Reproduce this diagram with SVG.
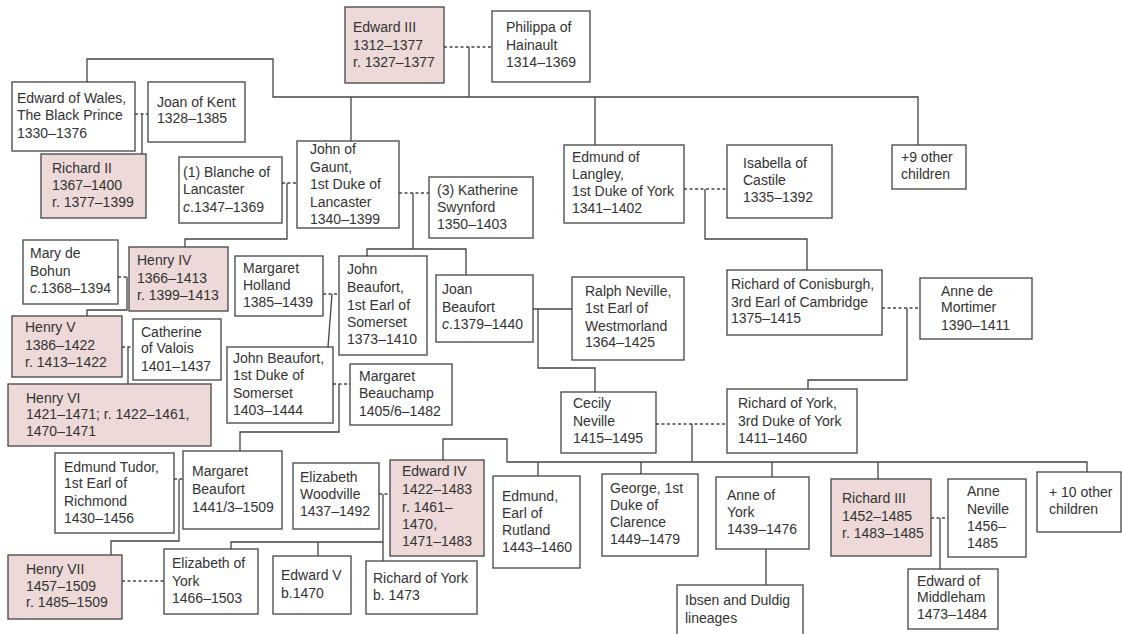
<svg xmlns="http://www.w3.org/2000/svg" width="1122" height="634" viewBox="0 0 1122 634">
<style>
.b{fill:#fff;stroke:#444;stroke-width:1.3}
.k{fill:#ecd9d8;stroke:#444;stroke-width:1.3}
text{font-family:"Liberation Sans",Arial,sans-serif;font-size:14px;fill:#333}
.c{fill:none;stroke:#444;stroke-width:1.3}
.d{fill:none;stroke:#444;stroke-width:1.3;stroke-dasharray:3,2.5}
</style>
<rect width="1122" height="634" fill="#fff"/>
<g id="connectors">
<line class="d" x1="444" y1="47" x2="492" y2="47"/>
<line class="c" x1="469" y1="47" x2="469" y2="97"/>
<polyline class="c" points="87,82 87,59 273,59 273,97 918,97 918,145"/>
<line class="c" x1="351" y1="97" x2="351" y2="141"/>
<line class="c" x1="595" y1="97" x2="595" y2="145"/>
<line class="d" x1="135" y1="114" x2="148" y2="114"/>
<line class="c" x1="142" y1="114" x2="142" y2="154"/>
<line class="d" x1="282" y1="183" x2="297" y2="183"/>
<polyline class="c" points="287,183 287,239 185,239 185,247"/>
<line class="d" x1="399" y1="193" x2="429" y2="193"/>
<line class="c" x1="413" y1="193" x2="413" y2="249"/>
<polyline class="c" points="367,256 367,249 466,249 466,275"/>
<line class="d" x1="118" y1="277" x2="129" y2="277"/>
<polyline class="c" points="127,277 127,310 87,310 87,316"/>
<line class="d" x1="122" y1="347" x2="133" y2="347"/>
<line class="c" x1="128" y1="347" x2="128" y2="384"/>
<line class="d" x1="323" y1="294" x2="339" y2="294"/>
<line class="c" x1="332" y1="294" x2="328" y2="347"/>
<line class="d" x1="333" y1="384" x2="350" y2="384"/>
<polyline class="c" points="339,384 339,432 240,432 240,451"/>
<line class="c" x1="533" y1="309" x2="572" y2="309"/>
<polyline class="c" points="538,309 538,368 595,368 595,392"/>
<line class="d" x1="684" y1="189" x2="727" y2="189"/>
<polyline class="c" points="705,189 705,239 807,239 807,270"/>
<line class="d" x1="882" y1="308" x2="920" y2="308"/>
<polyline class="c" points="907,308 907,380 808,380 808,389"/>
<line class="d" x1="656" y1="424" x2="727" y2="424"/>
<line class="c" x1="692" y1="424" x2="692" y2="462"/>
<polyline class="c" points="443,460 443,439 507,439 507,462 1087,462 1087,472"/>
<line class="c" x1="538" y1="462" x2="538" y2="476"/>
<line class="c" x1="641" y1="462" x2="641" y2="474"/>
<line class="c" x1="772" y1="462" x2="772" y2="477"/>
<line class="c" x1="878" y1="462" x2="878" y2="479"/>
<line class="c" x1="766" y1="549" x2="766" y2="585"/>
<line class="d" x1="931" y1="518" x2="948" y2="518"/>
<line class="c" x1="940" y1="518" x2="940" y2="569"/>
<line class="d" x1="174" y1="479" x2="183" y2="479"/>
<polyline class="c" points="179,479 179,541 111,541 111,555"/>
<line class="d" x1="379" y1="494" x2="390" y2="494"/>
<line class="c" x1="383" y1="494" x2="383" y2="561"/>
<polyline class="c" points="231,549 231,542 383,542"/>
<line class="c" x1="318" y1="542" x2="318" y2="556"/>
<line class="d" x1="122" y1="581" x2="164" y2="581"/>
</g>
<g id="edward3"><rect class="k" x="345" y="7" width="99" height="76"/><text x="353" y="32">Edward III</text><text x="353" y="50">1312–1377</text><text x="353" y="67">r. 1327–1377</text></g>
<g id="philippa"><rect class="b" x="492" y="11" width="98" height="71"/><text x="506" y="32">Philippa of</text><text x="506" y="50">Hainault</text><text x="506" y="67">1314–1369</text></g>
<g id="edwardwales"><rect class="b" x="12" y="82" width="123" height="69"/><text x="17" y="103">Edward of Wales,</text><text x="17" y="120">The Black Prince</text><text x="17" y="138">1330–1376</text></g>
<g id="joankent"><rect class="b" x="148" y="82" width="97" height="60"/><text x="157" y="107">Joan of Kent</text><text x="157" y="123">1328–1385</text></g>
<g id="richard2"><rect class="k" x="41" y="154" width="105" height="64"/><text x="52" y="173">Richard II</text><text x="52" y="190">1367–1400</text><text x="52" y="207">r. 1377–1399</text></g>
<g id="blanche"><rect class="b" x="179" y="157" width="103" height="66"/><text x="183" y="177">(1) Blanche of</text><text x="183" y="194">Lancaster</text><text x="183" y="212"><tspan font-style="italic">c</tspan>.1347–1369</text></g>
<g id="gaunt"><rect class="b" x="297" y="141" width="102" height="87"/><text x="310" y="154">John of</text><text x="310" y="172">Gaunt,</text><text x="310" y="189">1st Duke of</text><text x="310" y="207">Lancaster</text><text x="310" y="224">1340–1399</text></g>
<g id="katherine"><rect class="b" x="429" y="177" width="104" height="61"/><text x="437" y="195">(3) Katherine</text><text x="437" y="212">Swynford</text><text x="437" y="229">1350–1403</text></g>
<g id="edmundlangley"><rect class="b" x="564" y="145" width="120" height="78"/><text x="572" y="162">Edmund of</text><text x="572" y="179">Langley,</text><text x="572" y="196">1st Duke of York</text><text x="572" y="213">1341–1402</text></g>
<g id="isabella"><rect class="b" x="727" y="145" width="105" height="73"/><text x="743" y="168">Isabella of</text><text x="743" y="185">Castile</text><text x="743" y="202">1335–1392</text></g>
<g id="other9"><rect class="b" x="892" y="145" width="74" height="44"/><text x="901" y="162">+9 other</text><text x="901" y="179">children</text></g>
<g id="marybohun"><rect class="b" x="23" y="240" width="95" height="64"/><text x="30" y="258">Mary de</text><text x="30" y="276">Bohun</text><text x="30" y="293"><tspan font-style="italic">c</tspan>.1368–1394</text></g>
<g id="henry4"><rect class="k" x="129" y="247" width="99" height="64"/><text x="137" y="265">Henry IV</text><text x="137" y="283">1366–1413</text><text x="137" y="300">r. 1399–1413</text></g>
<g id="mholland"><rect class="b" x="235" y="256" width="88" height="60"/><text x="243" y="273">Margaret</text><text x="243" y="290">Holland</text><text x="243" y="307">1385–1439</text></g>
<g id="jbeaufort1"><rect class="b" x="339" y="256" width="88" height="99"/><text x="347" y="274">John</text><text x="347" y="292">Beaufort,</text><text x="347" y="310">1st Earl of</text><text x="347" y="327">Somerset</text><text x="347" y="344">1373–1410</text></g>
<g id="joanbeaufort"><rect class="b" x="436" y="275" width="97" height="67"/><text x="442" y="294">Joan</text><text x="442" y="312">Beaufort</text><text x="442" y="329"><tspan font-style="italic">c</tspan>.1379–1440</text></g>
<g id="ralph"><rect class="b" x="572" y="277" width="112" height="83"/><text x="585" y="296">Ralph Neville,</text><text x="585" y="313">1st Earl of</text><text x="585" y="331">Westmorland</text><text x="585" y="347">1364–1425</text></g>
<g id="conisburgh"><rect class="b" x="727" y="270" width="155" height="65"/><text x="731" y="289">Richard of Conisburgh,</text><text x="731" y="307">3rd Earl of Cambridge</text><text x="731" y="323">1375–1415</text></g>
<g id="annemortimer"><rect class="b" x="920" y="278" width="112" height="61"/><text x="941" y="296">Anne de</text><text x="941" y="312">Mortimer</text><text x="941" y="330">1390–1411</text></g>
<g id="henry5"><rect class="k" x="12" y="316" width="110" height="61"/><text x="25" y="332">Henry V</text><text x="25" y="350">1386–1422</text><text x="25" y="367">r. 1413–1422</text></g>
<g id="catherine"><rect class="b" x="133" y="319" width="88" height="61"/><text x="141" y="337">Catherine</text><text x="141" y="353">of Valois</text><text x="141" y="371">1401–1437</text></g>
<g id="henry6"><rect class="k" x="8" y="384" width="203" height="62"/><text x="26" y="403">Henry VI</text><text x="26" y="419">1421–1471; r. 1422–1461,</text><text x="26" y="436">1470–1471</text></g>
<g id="jbeaufort2"><rect class="b" x="227" y="347" width="106" height="76"/><text x="233" y="363">John Beaufort,</text><text x="233" y="380">1st Duke of</text><text x="233" y="398">Somerset</text><text x="233" y="415">1403–1444</text></g>
<g id="beauchamp"><rect class="b" x="350" y="364" width="102" height="61"/><text x="359" y="381">Margaret</text><text x="359" y="398">Beauchamp</text><text x="359" y="416">1405/6–1482</text></g>
<g id="cecily"><rect class="b" x="561" y="392" width="95" height="61"/><text x="573" y="408">Cecily</text><text x="573" y="426">Neville</text><text x="573" y="443">1415–1495</text></g>
<g id="richardyork3"><rect class="b" x="727" y="389" width="130" height="64"/><text x="738" y="408">Richard of York,</text><text x="738" y="426">3rd Duke of York</text><text x="738" y="443">1411–1460</text></g>
<g id="edmundtudor"><rect class="b" x="55" y="453" width="119" height="80"/><text x="64" y="472">Edmund Tudor,</text><text x="64" y="488">1st Earl of</text><text x="64" y="506">Richmond</text><text x="64" y="523">1430–1456</text></g>
<g id="mbeaufort"><rect class="b" x="183" y="451" width="99" height="78"/><text x="192" y="476">Margaret</text><text x="192" y="494">Beaufort</text><text x="192" y="512">1441/3–1509</text></g>
<g id="woodville"><rect class="b" x="293" y="463" width="86" height="66"/><text x="300" y="482">Elizabeth</text><text x="300" y="499">Woodville</text><text x="300" y="516">1437–1492</text></g>
<g id="edward4"><rect class="k" x="390" y="460" width="94" height="96"/><text x="402" y="476">Edward IV</text><text x="402" y="494">1422–1483</text><text x="402" y="512">r. 1461–</text><text x="402" y="529">1470,</text><text x="402" y="546">1471–1483</text></g>
<g id="edmundrutland"><rect class="b" x="493" y="476" width="87" height="92"/><text x="502" y="501">Edmund,</text><text x="502" y="518">Earl of</text><text x="502" y="535">Rutland</text><text x="502" y="552">1443–1460</text></g>
<g id="george"><rect class="b" x="602" y="474" width="96" height="82"/><text x="610" y="493">George, 1st</text><text x="610" y="510">Duke of</text><text x="610" y="527">Clarence</text><text x="610" y="544">1449–1479</text></g>
<g id="anneyork"><rect class="b" x="716" y="477" width="93" height="72"/><text x="727" y="500">Anne of</text><text x="727" y="517">York</text><text x="727" y="534">1439–1476</text></g>
<g id="richard3"><rect class="k" x="831" y="479" width="100" height="77"/><text x="842" y="503">Richard III</text><text x="842" y="521">1452–1485</text><text x="842" y="538">r. 1483–1485</text></g>
<g id="anneneville"><rect class="b" x="948" y="479" width="78" height="78"/><text x="967" y="496">Anne</text><text x="967" y="514">Neville</text><text x="967" y="531">1456–</text><text x="967" y="548">1485</text></g>
<g id="other10"><rect class="b" x="1037" y="472" width="84" height="60"/><text x="1049" y="497">+ 10 other</text><text x="1049" y="514">children</text></g>
<g id="henry7"><rect class="k" x="8" y="555" width="114" height="64"/><text x="26" y="574">Henry VII</text><text x="26" y="591">1457–1509</text><text x="26" y="607">r. 1485–1509</text></g>
<g id="elizabethyork"><rect class="b" x="164" y="549" width="94" height="65"/><text x="172" y="568">Elizabeth of</text><text x="172" y="586">York</text><text x="172" y="603">1466–1503</text></g>
<g id="edward5"><rect class="b" x="273" y="556" width="78" height="58"/><text x="281" y="580">Edward V</text><text x="281" y="598">b.1470</text></g>
<g id="richardyork1473"><rect class="b" x="366" y="561" width="111" height="53"/><text x="373" y="583">Richard of York</text><text x="373" y="600">b. 1473</text></g>
<g id="ibsen"><rect class="b" x="677" y="585" width="126" height="60"/><text x="685" y="605">Ibsen and Duldig</text><text x="685" y="623">lineages</text></g>
<g id="middleham"><rect class="b" x="908" y="569" width="90" height="60"/><text x="917" y="586">Edward of</text><text x="917" y="602">Middleham</text><text x="917" y="619">1473–1484</text></g>
</svg>
